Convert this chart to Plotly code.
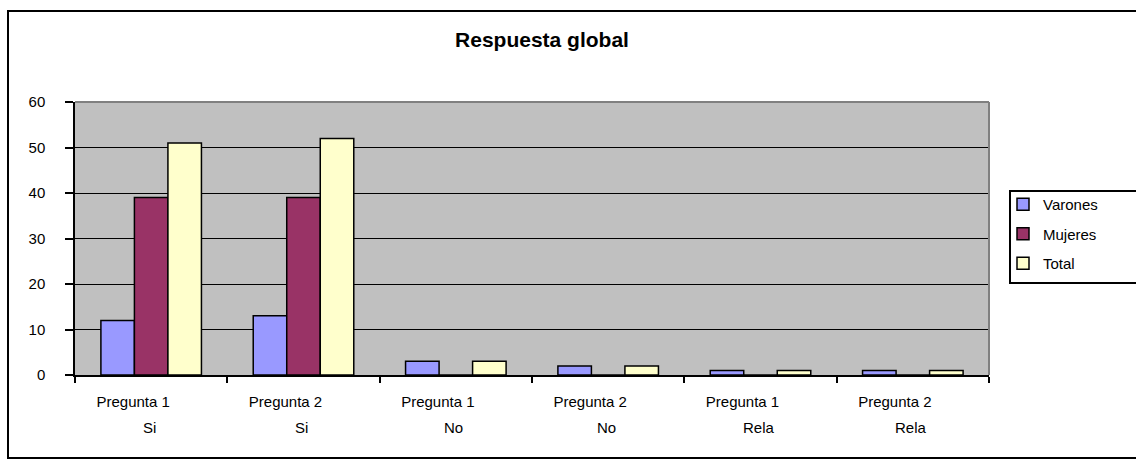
import plotly.graph_objects as go

# Survey answers per question and response type
preguntas = ["Pregunta 1", "Pregunta 2", "Pregunta 1", "Pregunta 2", "Pregunta 1", "Pregunta 2"]
respuestas = ["Si", "Si", "No", "No", "Rela", "Rela"]
categorias = [f"{p} {r}" for p, r in zip(preguntas, respuestas)]

varones = [12, 13, 3, 2, 1, 1]
mujeres = [39, 39, 0, 0, 0, 0]
total = [51, 52, 3, 2, 1, 1]

y_ticks = [0, 10, 20, 30, 40, 50, 60]

W, H = 1136, 461
L, R, T, B = 75, 147, 102, 86
PW, PH = W - L - R, H - T - B


def px_x(x):
    return (x - L) / PW


def px_y(y):
    return (H - B - y) / PH


FONT = "Liberation Sans, Arial, sans-serif"

series = [
    ("Varones", varones, "#9999FF"),
    ("Mujeres", mujeres, "#993366"),
    ("Total", total, "#FFFFCC"),
]

fig = go.Figure()
for i, (name, vals, color) in enumerate(series):
    fig.add_trace(go.Bar(
        x=categorias, y=vals, name=name, legendgroup=name,
        marker=dict(color=color, line=dict(color="black", width=1.5)),
    ))

# second line of each category label
annotations = [
    dict(x=i, xref="x", y=px_y(427), yref="paper", text=r, showarrow=False,
         xshift=-2, font=dict(family=FONT, size=15, color="black"),
         xanchor="center", yanchor="middle")
    for i, r in enumerate(respuestas)
]

shapes = [
    # outer chart frame (runs past the right edge of the page)
    dict(type="rect", xref="paper", yref="paper",
         x0=px_x(8), x1=px_x(1250), y0=px_y(458), y1=px_y(11),
         line=dict(color="black", width=2), layer="below"),
    # legend frame, also running past the right edge
    dict(type="rect", xref="paper", yref="paper",
         x0=px_x(1010), x1=px_x(1250), y0=px_y(283), y1=px_y(191),
         line=dict(color="black", width=2), fillcolor="white", layer="below"),
    # plot area frame (top and right)
    dict(type="line", xref="paper", yref="paper", x0=0, x1=1, y0=1, y1=1,
         line=dict(color="#808080", width=2), layer="above"),
    dict(type="line", xref="paper", yref="paper", x0=1, x1=1, y0=0, y1=1,
         line=dict(color="#808080", width=2), layer="above"),
]

fig.update_layout(
    width=W, height=H,
    margin=dict(l=L, r=R, t=T, b=B, pad=0),
    paper_bgcolor="white",
    plot_bgcolor="#C0C0C0",
    font=dict(family=FONT, size=15, color="black"),
    barmode="group",
    bargap=0.34,
    bargroupgap=0,
    title=dict(text="<b>Respuesta global</b>", x=px_x(542), xref="paper",
               xanchor="center", y=1 - 40 / H, yref="container", yanchor="middle",
               font=dict(family=FONT, size=21, color="black")),
    legend=dict(
        x=px_x(1003), y=px_y(188), xanchor="left", yanchor="top",
        borderwidth=0, bgcolor="rgba(0,0,0,0)",
        font=dict(family=FONT, size=15, color="black"),
        traceorder="grouped", tracegroupgap=7,
        itemwidth=30,
    ),
    xaxis=dict(
        type="category",
        tickvals=categorias, ticktext=preguntas,
        tickson="boundaries", ticks="outside", ticklen=6, tickcolor="black", tickwidth=1.5,
        showline=True, linecolor="black", linewidth=1.5,
        showgrid=False, ticklabelshift=-18, ticklabelstandoff=12,
        tickfont=dict(family=FONT, size=15, color="black"),
    ),
    yaxis=dict(
        range=[0, 60], tickvals=y_ticks,
        ticks="outside", ticklen=8, tickcolor="black", tickwidth=1.5,
        showline=True, linecolor="black", linewidth=1.5,
        showgrid=True, gridcolor="black", gridwidth=1,
        zeroline=False, ticklabelstandoff=17,
        tickfont=dict(family=FONT, size=15, color="black"),
    ),
    annotations=annotations,
    shapes=shapes,
)

fig.write_html("out.html")
